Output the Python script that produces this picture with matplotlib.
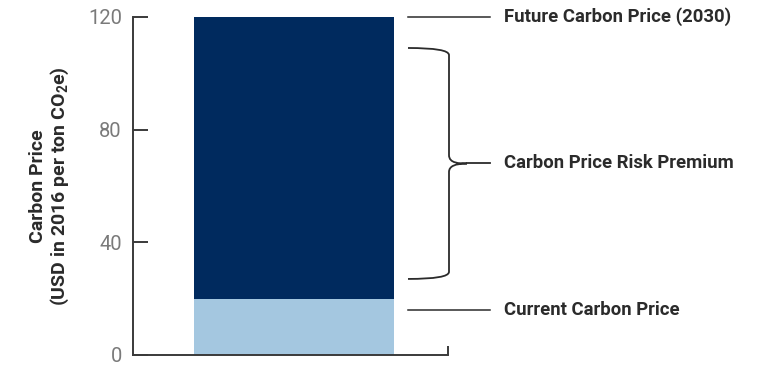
import matplotlib.pyplot as plt
import matplotlib.patches as mpatches
from matplotlib.path import Path
from matplotlib.transforms import blended_transform_factory

# Carbon price components (USD in 2016 per ton CO2e)
current_price = 20
risk_premium = 100
future_price = current_price + risk_premium
y_ticks = [0, 40, 80, 120]

# Annotation anchors on the price axis
future_line_y = 120
current_line_y = 16
brace_top = 109
brace_bottom = 27
brace_mid = 68

navy = '#002a5e'
light_blue = '#a4c7e0'
ink = '#2b2b2b'

plt.rcParams['font.family'] = ['Roboto', 'DejaVu Sans']
plt.rcParams['mathtext.fontset'] = 'custom'
plt.rcParams['mathtext.bf'] = 'Roboto:bold'
plt.rcParams['mathtext.rm'] = 'Roboto:bold'

fig = plt.figure(figsize=(7.59, 3.69), dpi=100)
ax = fig.add_axes([133 / 759, 1 - 355 / 369, 315 / 759, 338 / 369])

bar_x = 0.511
bar_w = 0.635
ax.bar(bar_x, current_price, width=bar_w, color=light_blue, linewidth=0)
ax.bar(bar_x, risk_premium, bottom=current_price, width=bar_w, color=navy, linewidth=0)

ax.set_xlim(0, 1)
ax.set_ylim(0, 120)
ax.set_yticks(y_ticks)
ax.set_yticklabels([str(t) for t in y_ticks], fontsize=14.5, fontweight='normal', color='#7a7a7a')
ax.set_xticks([1])
ax.set_xticklabels([''])
ax.tick_params(axis='y', direction='in', length=11, width=1.4, color='#3a3a3a', pad=8)
ax.tick_params(axis='x', direction='in', length=6.5, width=1.4, color='#3a3a3a')

for side in ['top', 'right']:
    ax.spines[side].set_visible(False)
for side in ['left', 'bottom']:
    ax.spines[side].set_linewidth(1.4)
    ax.spines[side].set_color('#3a3a3a')

ax.set_ylabel('Carbon Price\n(USD in 2016 per ton CO$_\\mathrm{2}$e)', fontsize=14,
              fontweight='bold', color=ink, labelpad=12, linespacing=1.15)

# Labels to the right of the bar: x in figure fraction, y in data units
tr = blended_transform_factory(fig.transFigure, ax.transData)
x0 = 408 / 759
x1 = 490 / 759
xv = 449 / 759
xt = 504 / 759

ax.plot([x0, x1], [future_line_y, future_line_y], color=ink, lw=1.1,
        transform=tr, clip_on=False)
ax.plot([x0, x1], [current_line_y, current_line_y], color=ink, lw=1.1,
        transform=tr, clip_on=False)

# Curly brace around the risk premium
tip = 467 / 759
verts = [
    (x0, brace_top), (xv, brace_top), (xv, brace_top - 2.5),
    (xv, brace_mid + 3),
    (xv, brace_mid), (tip - 0.01, brace_mid), (tip, brace_mid),
    (xv, brace_mid), (xv, brace_mid - 3),
    (xv, brace_bottom + 2.5),
    (xv, brace_bottom), (x0, brace_bottom), (x0, brace_bottom),
]
codes = [
    Path.MOVETO, Path.CURVE3, Path.CURVE3,
    Path.LINETO,
    Path.CURVE4, Path.CURVE4, Path.CURVE4,
    Path.CURVE3, Path.CURVE3,
    Path.LINETO,
    Path.CURVE3, Path.CURVE3, Path.LINETO,
]
brace = mpatches.PathPatch(Path(verts, codes), fill=False, edgecolor=ink, lw=1.3,
                           transform=tr, clip_on=False)
ax.add_patch(brace)
ax.plot([tip, x1], [brace_mid, brace_mid], color=ink, lw=1.3,
        transform=tr, clip_on=False)

label_style = dict(transform=tr, fontsize=13.3, fontweight='bold', color=ink,
                   va='center', ha='left')
ax.text(xt, future_line_y, 'Future Carbon Price (2030)', **label_style)
ax.text(xt, brace_mid, 'Carbon Price Risk Premium', **label_style)
ax.text(xt, current_line_y, 'Current Carbon Price', **label_style)

fig.savefig('out.png', dpi=100)
